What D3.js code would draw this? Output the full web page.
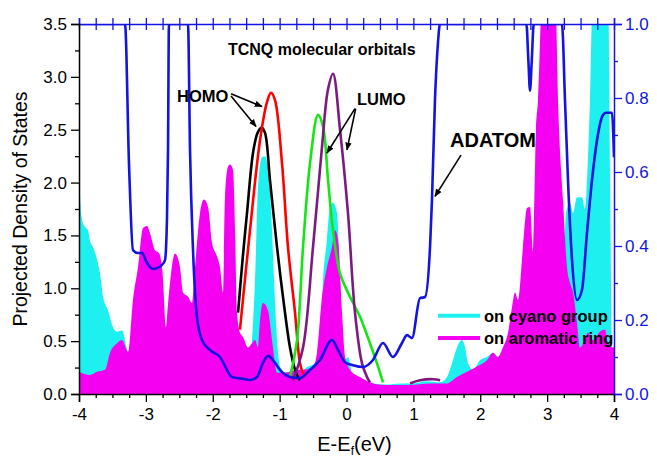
<!DOCTYPE html>
<html>
<head>
<meta charset="utf-8">
<script src="https://cdn.jsdelivr.net/npm/d3@7"></script>
<style>
  body { margin: 0; background: #fff; }
  svg { display: block; font-family: "Liberation Sans", Arial, sans-serif; }
</style>
</head>
<body>
<svg id="chart" width="657" height="462"></svg>
<script>
// on cyano group (filled)
const cyanoE = [-4.0, -3.985, -3.955, -3.91, -3.866, -3.836, -3.79, -3.73, -3.686, -3.64, -3.566, -3.49, -3.43, -3.357, -3.282, -3.2, -3.0, -2.7, -2.3, -1.9, -1.6,
  -1.45, -1.413, -1.368, -1.323, -1.264, -1.219, -1.174, -1.114, -1.084, -1.039, -0.994, -0.92, -0.8, -0.7, -0.6, -0.5, -0.441, -0.396, -0.351, -0.292, -0.247,
  -0.202, -0.142, -0.097, -0.052, -0.01, 0.022, 0.097, 0.2, 0.4, 0.6, 0.8, 1.0, 1.2, 1.4, 1.503, 1.578, 1.652, 1.727, 1.772, 1.817, 1.892, 1.996, 2.101,
  2.191, 2.265, 2.34, 2.5, 2.8, 3.0, 3.237, 3.282, 3.342, 3.387, 3.447, 3.521, 3.566, 3.641, 3.686, 3.88, 3.91, 3.94, 3.97, 4.0];
const cyanoDos = [2.28, 1.9, 1.65, 1.58, 1.55, 1.45, 1.39, 1.27, 1.14, 0.92, 0.79, 0.63, 0.59, 0.6, 0.42, 0.3, 0.3, 0.35, 0.4, 0.5, 0.3,
  0.3, 0.51, 1.08, 1.96, 2.24, 2.25, 2.15, 1.55, 1.08, 0.51, 0.26, 0.2, 0.22, 0.2, 0.25, 0.28, 0.3, 0.44, 1.08, 1.46, 1.77,
  1.81, 1.71, 1.08, 0.44, 0.33, 0.35, 0.16, 0.12, 0.1, 0.09, 0.1, 0.1, 0.12, 0.11, 0.16, 0.29, 0.44, 0.51, 0.44, 0.29, 0.23, 0.32, 0.35,
  0.39, 0.35, 0.44, 0.6, 0.8, 0.8, 1.0, 1.71, 1.81, 1.71, 1.86, 1.86, 1.74, 2.78, 3.9, 3.9, 3.9, 2.1, 0.4, 0.4];

// on aromatic ring (filled)
const ringE = [-4.0, -3.836, -3.73, -3.61, -3.536, -3.43, -3.357, -3.267, -3.193, -3.118, -3.043, -2.983, -2.938, -2.864, -2.8, -2.75, -2.7, -2.669,
  -2.564, -2.49, -2.445, -2.37, -2.31, -2.265, -2.191, -2.131, -2.071, -2.011, -1.936, -1.892, -1.847, -1.817, -1.772, -1.742, -1.697, -1.667,
  -1.637, -1.593, -1.548, -1.473, -1.413, -1.368, -1.323, -1.293, -1.249, -1.174, -1.114, -1.039, -0.95, -0.845, -0.725, -0.65, -0.501, -0.441,
  -0.366, -0.292, -0.217, -0.172, -0.127, -0.067, -0.022, 0.052, 0.202, 0.351, 0.546, 0.755, 0.949, 1.249, 1.503, 1.652, 1.802, 1.951, 2.041,
  2.101, 2.191, 2.265, 2.34, 2.415, 2.475, 2.52, 2.564, 2.639, 2.699, 2.744, 2.789, 2.834, 2.864, 2.93, 3.05, 3.12, 3.163, 3.237, 3.297, 3.342,
  3.387, 3.447, 3.491, 3.566, 3.611, 3.686, 3.791, 3.865, 3.91, 3.985, 4.0];
const ringDos = [0.21, 0.18, 0.21, 0.23, 0.39, 0.48, 0.51, 0.4, 0.89, 1.2, 1.57, 1.59, 1.52, 1.36, 1.33, 1.14, 0.63, 0.85,
  1.33, 1.2, 0.96, 0.92, 0.86, 1.2, 1.71, 1.84, 1.77, 1.43, 1.3, 1.2, 0.96, 1.86, 2.15, 2.17, 2.12, 1.55,
  0.77, 0.58, 0.54, 0.44, 0.48, 0.51, 0.44, 0.7, 0.86, 0.79, 0.51, 0.2, 0.2, 0.21, 0.23, 0.23, 0.26, 0.39,
  0.92, 1.2, 1.39, 1.55, 1.46, 0.77, 0.35, 0.23, 0.16, 0.11, 0.085, 0.085, 0.085, 0.1, 0.1, 0.16, 0.21, 0.26, 0.29,
  0.32, 0.39, 0.35, 0.44, 0.58, 0.82, 0.96, 0.89, 1.39, 1.76, 1.77, 1.33, 2.5, 2.78, 3.9, 4.2, 3.9, 2.78, 1.84, 1.2, 1.05,
  0.96, 0.67, 0.44, 0.51, 0.58, 0.51, 0.59, 0.61, 0.48, 0.44, 0.44];

// TCNQ molecular orbitals
const homoBlackE = [-1.622, -1.55, -1.488, -1.398, -1.33, -1.27, -1.219, -1.144, -1.039, -0.95, -0.845, -0.77, -0.725, -0.695];
const homoBlackDos = [0.77, 1.3, 1.71, 2.28, 2.47, 2.52, 2.47, 2.02, 1.39, 0.92, 0.44, 0.23, 0.16, 0.13];
const homoRedE = [-1.593, -1.443, -1.293, -1.189, -1.129, -1.069, -0.964, -0.875, -0.77, -0.695, -0.65, -0.62];
const homoRedDos = [0.61, 1.55, 2.4, 2.76, 2.85, 2.78, 2.18, 1.39, 0.77, 0.29, 0.2, 0.18];
const lumoGreenE = [-0.845, -0.74, -0.65, -0.546, -0.426, -0.351, -0.277, -0.202, -0.097, 0.052, 0.202, 0.351, 0.456, 0.546];
const lumoGreenDos = [0.16, 0.51, 1.39, 2.18, 2.64, 2.53, 2.03, 1.55, 1.14, 0.92, 0.73, 0.48, 0.29, 0.11];
const lumoPurpleE = [-0.8, -0.65, -0.501, -0.366, -0.277, -0.202, -0.097, 0.022, 0.127, 0.232, 0.307, 0.351, 0.6, 0.95, 1.1, 1.3, 1.4];
const lumoPurpleDos = [0.13, 0.44, 1.39, 2.34, 2.88, 3.03, 2.5, 1.71, 0.77, 0.29, 0.16, 0.11, null, 0.1, 0.13, 0.14, 0.13];

// adatom (right axis)
const adatomE = [-4.0, -3.312, -3.252, -3.193, -3.118, -3.058, -2.983, -2.893, -2.759, -2.714, -2.684, -2.669, -2.655, -2.37, -2.34, -2.295, -2.236,
  -2.161, -2.041, -1.892, -1.712, -1.548, -1.443, -1.338, -1.249, -1.174, -1.069, -0.994, -0.845, -0.695, -0.546, -0.396, -0.217, -0.127, -0.022,
  0.097, 0.247, 0.396, 0.546, 0.695, 0.83, 0.905, 0.979, 1.099, 1.174, 1.249, 1.278, 1.323, 1.368, 1.398, 2.69, 2.72, 2.744, 2.77, 2.8, 3.222,
  3.267, 3.312, 3.372, 3.447, 3.521, 3.596, 3.671, 3.746, 3.835, 3.88, 3.97, 4.0];
const adatomDos = [1.0, 1.0, 0.62, 0.389, 0.381, 0.381, 0.354, 0.338, 0.349, 0.362, 0.478, 0.66, 1.0, 1.0, 0.66, 0.389, 0.208,
  0.146, 0.119, 0.1, 0.046, 0.041, 0.038, 0.046, 0.084, 0.103, 0.084, 0.065, 0.046, 0.043, 0.065, 0.092, 0.146, 0.119, 0.086,
  0.078, 0.073, 0.092, 0.138, 0.1, 0.138, 0.159, 0.151, 0.259, 0.262, 0.397, 0.524, 0.795, 0.95, 1.0, 1.0, 0.9, 0.82, 0.9, 1.0, 1.0,
  0.795, 0.578, 0.362, 0.254, 0.281, 0.435, 0.578, 0.686, 0.754, 0.76, 0.76, 0.64];

const svg = d3.select('#chart');
const W = 657, H = 462;
const margin = { top: 24, right: 43, bottom: 68, left: 79 };
const iw = W - margin.left - margin.right;
const ih = H - margin.top - margin.bottom;
const BLUE = '#1414e0';

const x = d3.scaleLinear().domain([-4, 4]).range([0, iw]);
const y = d3.scaleLinear().domain([0, 3.5]).range([ih, 0]);
const y2 = d3.scaleLinear().domain([0, 1]).range([ih, 0]);

const defs = svg.append('defs');
defs.append('clipPath').attr('id', 'clip')
  .append('rect').attr('width', iw).attr('height', ih);

const g = svg.append('g').attr('transform', `translate(${margin.left},${margin.top})`);
const plot = g.append('g').attr('clip-path', 'url(#clip)');

const zip = (xs, ys) => xs.map((e, i) => [e, ys[i]]);

const area = d3.area()
  .x(d => x(d[0]))
  .y0(y(0))
  .y1(d => y(d[1]))
  .curve(d3.curveMonotoneX);

plot.append('path').datum(zip(cyanoE, cyanoDos))
  .attr('d', area).attr('fill', '#1ef0f0');
plot.append('path').datum(zip(ringE, ringDos))
  .attr('d', area).attr('fill', '#f500f0');

const orbital = d3.line()
  .defined(d => d[1] !== null)
  .x(d => x(d[0]))
  .y(d => y(d[1]))
  .curve(d3.curveCatmullRom.alpha(0.5));

[[homoBlackE, homoBlackDos, '#000'], [homoRedE, homoRedDos, '#ff0000'],
 [lumoGreenE, lumoGreenDos, '#14e614'], [lumoPurpleE, lumoPurpleDos, '#7d1a82']]
  .forEach(([e, d, c]) => {
    plot.append('path').datum(zip(e, d))
      .attr('d', orbital).attr('fill', 'none')
      .attr('stroke', c).attr('stroke-width', 2.6);
  });

const adatomLine = d3.line()
  .x(d => x(d[0]))
  .y(d => y2(d[1]))
  .curve(d3.curveMonotoneX);

plot.append('path').datum(zip(adatomE, adatomDos))
  .attr('d', adatomLine).attr('fill', 'none')
  .attr('stroke', BLUE).attr('stroke-width', 2.6);

// Axes
const styleAxis = (sel, colour) => {
  sel.select('.domain').attr('stroke', colour).attr('stroke-width', 1.5);
  sel.selectAll('.tick line').attr('stroke', colour).attr('stroke-width', 1.3);
  sel.selectAll('.tick text').attr('fill', colour)
    .style('font-size', '17px').style('font-family', '"Liberation Sans", Arial, sans-serif');
};

const isHalf = d => Math.abs(d * 2 - Math.round(d * 2)) < 1e-6;

const xMinor = d3.range(-4, 4.001, 0.25);
const axisB = g.append('g').attr('transform', `translate(0,${ih})`)
  .call(d3.axisBottom(x).tickValues(xMinor).tickSize(8).tickPadding(6)
    .tickFormat(d => Number.isInteger(d) ? String(d) : ''));
axisB.selectAll('.tick').filter(d => !Number.isInteger(d)).select('line').attr('y2', 4);
styleAxis(axisB, '#000');

const axisT = g.append('g')
  .call(d3.axisTop(x).tickValues(xMinor).tickSize(6).tickFormat(''));
axisT.selectAll('.tick line').attr('y1', 6);
styleAxis(axisT, BLUE);

const yMinor = d3.range(0, 3.501, 0.25);
const axisL = g.append('g')
  .call(d3.axisLeft(y).tickValues(yMinor).tickSize(8).tickPadding(4)
    .tickFormat(d => isHalf(d) ? d3.format('.1f')(d) : ''));
axisL.selectAll('.tick').filter(d => !isHalf(d)).select('line').attr('x2', -4);
styleAxis(axisL, '#000');

const y2Minor = d3.range(0, 1.001, 0.1);
const axisR = g.append('g').attr('transform', `translate(${iw},0)`)
  .call(d3.axisRight(y2).tickValues(y2Minor).tickSize(8).tickPadding(3)
    .tickFormat(d => Math.round(d * 10) % 2 === 0 ? d3.format('.1f')(d) : ''));
axisR.selectAll('.tick').filter(d => Math.round(d * 10) % 2 !== 0).select('line').attr('x2', 4);
styleAxis(axisR, BLUE);

// Axis titles
svg.append('text')
  .attr('transform', `translate(27,${margin.top + ih / 2}) rotate(-90)`)
  .attr('text-anchor', 'middle')
  .style('font-size', '19.5px')
  .text('Projected Density of States');

const xTitle = svg.append('text')
  .attr('x', margin.left + x(0.12)).attr('y', 451)
  .attr('text-anchor', 'middle')
  .style('font-size', '20px');
xTitle.append('tspan').text('E-E');
xTitle.append('tspan').attr('dy', 4).style('font-size', '12px').text('f');
xTitle.append('tspan').attr('dy', -4).text('(eV)');

// Annotations
const ann = g.append('g').style('font-weight', 'bold');
ann.append('text').attr('x', x(-1.772)).attr('y', y(3.21)).style('font-size', '16px').text('TCNQ molecular orbitals');
ann.append('text').attr('x', x(-2.535)).attr('y', y(2.76)).style('font-size', '16.5px').text('HOMO');
ann.append('text').attr('x', x(0.157)).attr('y', y(2.73)).style('font-size', '16.5px').text('LUMO');
ann.append('text').attr('x', x(1.548)).attr('y', y(2.34)).style('font-size', '20px').text('ADATOM');

defs.append('marker')
  .attr('id', 'arrow').attr('viewBox', '0 0 10 10')
  .attr('refX', 9).attr('refY', 5)
  .attr('markerWidth', 5).attr('markerHeight', 5)
  .attr('orient', 'auto')
  .append('path').attr('d', 'M0,1 L10,5 L0,9 Z').attr('fill', '#000');

const arrows = [
  [-1.727, 2.84, -1.264, 2.72],
  [-1.727, 2.82, -1.353, 2.53],
  [0.127, 2.70, -0.292, 2.28],
  [0.137, 2.70, 0.007, 2.31],
  [1.712, 2.26, 1.323, 1.87]
];
g.append('g').selectAll('line').data(arrows).join('line')
  .attr('x1', d => x(d[0])).attr('y1', d => y(d[1]))
  .attr('x2', d => x(d[2])).attr('y2', d => y(d[3]))
  .attr('stroke', '#000').attr('stroke-width', 1.6)
  .attr('marker-end', 'url(#arrow)');

// Legend
const legendNames = ['on cyano group', 'on aromatic ring'];
const legendColours = ['#1ef0f0', '#f500f0'];
const legendY = [0.74, 0.53];
const lg = g.append('g');
legendNames.forEach((name, i) => {
  lg.append('line')
    .attr('x1', x(1.368)).attr('x2', x(1.996))
    .attr('y1', y(legendY[i])).attr('y2', y(legendY[i]))
    .attr('stroke', legendColours[i]).attr('stroke-width', 4);
  lg.append('text')
    .attr('x', x(2.056)).attr('y', y(legendY[i]))
    .attr('dy', '0.35em')
    .style('font-size', '16.5px').style('font-weight', 'bold')
    .text(name);
});
</script>
</body>
</html>
